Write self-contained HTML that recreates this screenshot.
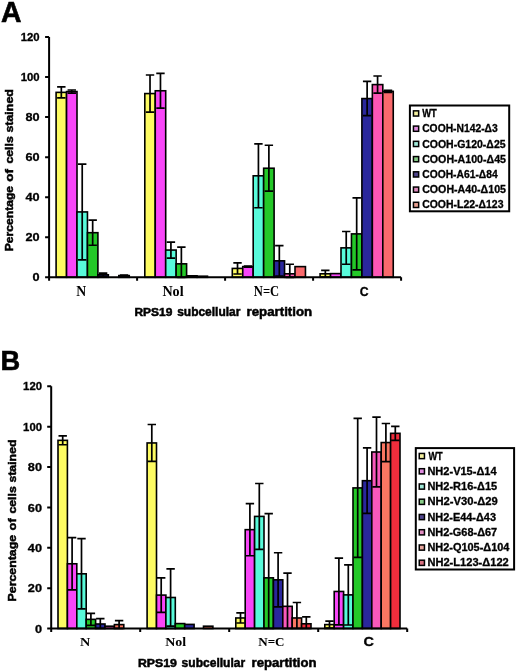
<!DOCTYPE html>
<html><head><meta charset="utf-8"><style>
html,body{margin:0;padding:0;background:#fff;}
body{width:520px;height:672px;position:relative;overflow:hidden;font-family:"Liberation Sans", sans-serif;}
</style></head><body>
<div style="will-change:transform;position:absolute;left:0;top:0;width:520px;height:672px"><svg width="520" height="672" viewBox="0 0 520 672" style="position:absolute;left:0;top:0">
<rect x="56.1" y="92.37" width="10.45" height="184.93" fill="#FDFB62" stroke="#000" stroke-width="1.6"/>
<rect x="66.55" y="91.57" width="10.45" height="185.73" fill="#F846F8" stroke="#000" stroke-width="1.6"/>
<rect x="77" y="211.93" width="10.45" height="65.37" fill="#58FADA" stroke="#000" stroke-width="1.6"/>
<rect x="87.45" y="232.69" width="10.45" height="44.61" fill="#24C828" stroke="#000" stroke-width="1.6"/>
<rect x="97.9" y="274.8" width="10.45" height="2.5" fill="#2A279C" stroke="#000" stroke-width="1.6"/>
<rect x="118.8" y="275.6" width="10.45" height="1.7" fill="#FA696C" stroke="#000" stroke-width="1.6"/>
<rect x="144.8" y="93.57" width="10.45" height="183.73" fill="#FDFB62" stroke="#000" stroke-width="1.6"/>
<rect x="155.25" y="90.77" width="10.45" height="186.53" fill="#F846F8" stroke="#000" stroke-width="1.6"/>
<rect x="165.7" y="250.05" width="10.45" height="27.25" fill="#58FADA" stroke="#000" stroke-width="1.6"/>
<rect x="176.15" y="263.83" width="10.45" height="13.47" fill="#24C828" stroke="#000" stroke-width="1.6"/>
<rect x="186.6" y="275.8" width="10.45" height="1.5" fill="#2A279C" stroke="#000" stroke-width="1.6"/>
<rect x="197.05" y="276.2" width="10.45" height="1.1" fill="#FC56B6" stroke="#000" stroke-width="1.6"/>
<rect x="232.3" y="268.42" width="10.45" height="8.88" fill="#FDFB62" stroke="#000" stroke-width="1.6"/>
<rect x="242.75" y="266.62" width="10.45" height="10.68" fill="#F846F8" stroke="#000" stroke-width="1.6"/>
<rect x="253.2" y="175.8" width="10.45" height="101.5" fill="#58FADA" stroke="#000" stroke-width="1.6"/>
<rect x="263.65" y="168.22" width="10.45" height="109.08" fill="#24C828" stroke="#000" stroke-width="1.6"/>
<rect x="274.1" y="260.83" width="10.45" height="16.47" fill="#2A279C" stroke="#000" stroke-width="1.6"/>
<rect x="284.55" y="273.81" width="10.45" height="3.49" fill="#FC56B6" stroke="#000" stroke-width="1.6"/>
<rect x="295" y="266.62" width="10.45" height="10.68" fill="#FA696C" stroke="#000" stroke-width="1.6"/>
<rect x="320.1" y="273.81" width="10.45" height="3.49" fill="#FDFB62" stroke="#000" stroke-width="1.6"/>
<rect x="330.55" y="273.61" width="10.45" height="3.69" fill="#F846F8" stroke="#000" stroke-width="1.6"/>
<rect x="341" y="247.86" width="10.45" height="29.44" fill="#58FADA" stroke="#000" stroke-width="1.6"/>
<rect x="351.45" y="233.89" width="10.45" height="43.41" fill="#24C828" stroke="#000" stroke-width="1.6"/>
<rect x="361.9" y="98.56" width="10.45" height="178.74" fill="#2A279C" stroke="#000" stroke-width="1.6"/>
<rect x="372.35" y="84.59" width="10.45" height="192.71" fill="#FC56B6" stroke="#000" stroke-width="1.6"/>
<rect x="382.8" y="91.37" width="10.45" height="185.93" fill="#FA696C" stroke="#000" stroke-width="1.6"/>
<path d="M61.33 86.78V97.96M57.12 86.78H65.53M57.12 97.96H65.53" stroke="#000" stroke-width="1.7" fill="none"/>
<path d="M71.77 89.98V93.17M67.57 89.98H75.97M67.57 93.17H75.97" stroke="#000" stroke-width="1.7" fill="none"/>
<path d="M82.22 164.03V259.83M78.02 164.03H86.42M78.02 259.83H86.42" stroke="#000" stroke-width="1.7" fill="none"/>
<path d="M92.67 220.11V245.26M88.47 220.11H96.88M88.47 245.26H96.88" stroke="#000" stroke-width="1.7" fill="none"/>
<path d="M103.12 273.21V276.4M98.92 273.21H107.33M98.92 276.4H107.33" stroke="#000" stroke-width="1.7" fill="none"/>
<path d="M124.02 275V276.2M119.82 275H128.22M119.82 276.2H128.22" stroke="#000" stroke-width="1.7" fill="none"/>
<path d="M150.02 75.01V112.13M145.82 75.01H154.22M145.82 112.13H154.22" stroke="#000" stroke-width="1.7" fill="none"/>
<path d="M160.47 73.41V108.14M156.27 73.41H164.67M156.27 108.14H164.67" stroke="#000" stroke-width="1.7" fill="none"/>
<path d="M170.92 242.07V258.04M166.72 242.07H175.12M166.72 258.04H175.12" stroke="#000" stroke-width="1.7" fill="none"/>
<path d="M181.37 247.06V277.3M177.17 247.06H185.57M177.17 277.3H185.57" stroke="#000" stroke-width="1.7" fill="none"/>
<path d="M237.52 262.83V274.01M233.32 262.83H241.72M233.32 274.01H241.72" stroke="#000" stroke-width="1.7" fill="none"/>
<path d="M247.97 266.02V267.22M243.77 266.02H252.17M243.77 267.22H252.17" stroke="#000" stroke-width="1.7" fill="none"/>
<path d="M258.43 143.87V207.74M254.23 143.87H262.62M254.23 207.74H262.62" stroke="#000" stroke-width="1.7" fill="none"/>
<path d="M268.88 145.26V191.17M264.68 145.26H273.07M264.68 191.17H273.07" stroke="#000" stroke-width="1.7" fill="none"/>
<path d="M279.32 245.66V276M275.12 245.66H283.52M275.12 276H283.52" stroke="#000" stroke-width="1.7" fill="none"/>
<path d="M289.78 264.23V277.3M285.58 264.23H293.98M285.58 277.3H293.98" stroke="#000" stroke-width="1.7" fill="none"/>
<path d="M325.33 270.41V277.2M321.13 270.41H329.53M321.13 277.2H329.53" stroke="#000" stroke-width="1.7" fill="none"/>
<path d="M346.23 231.49V264.23M342.03 231.49H350.43M342.03 264.23H350.43" stroke="#000" stroke-width="1.7" fill="none"/>
<path d="M356.68 197.96V269.81M352.48 197.96H360.88M352.48 269.81H360.88" stroke="#000" stroke-width="1.7" fill="none"/>
<path d="M367.13 81.39V115.72M362.93 81.39H371.33M362.93 115.72H371.33" stroke="#000" stroke-width="1.7" fill="none"/>
<path d="M377.58 76V93.17M373.38 76H381.78M373.38 93.17H381.78" stroke="#000" stroke-width="1.7" fill="none"/>
<path d="M388.03 90.37V92.37M383.83 90.37H392.23M383.83 92.37H392.23" stroke="#000" stroke-width="1.7" fill="none"/>
<path d="M49.1 37V277.3M45.1 277.3H49.1M45.1 237.25H49.1M45.1 197.2H49.1M45.1 157.15H49.1M45.1 117.1H49.1M45.1 77.05H49.1M45.1 37H49.1M45.1 277.3H401.1M49.1 277.3V280.8M137.1 277.3V280.8M225.1 277.3V280.8M313.1 277.3V280.8M401.1 277.3V280.8" stroke="#000" stroke-width="2" fill="none"/>
<rect x="58" y="440.35" width="9.4" height="188.15" fill="#FDFB62" stroke="#000" stroke-width="1.6"/>
<rect x="67.4" y="563.78" width="9.4" height="64.72" fill="#F846F8" stroke="#000" stroke-width="1.6"/>
<rect x="76.8" y="573.81" width="9.4" height="54.69" fill="#58FADA" stroke="#000" stroke-width="1.6"/>
<rect x="86.2" y="619.37" width="9.4" height="9.13" fill="#24C828" stroke="#000" stroke-width="1.6"/>
<rect x="95.6" y="623.99" width="9.4" height="4.51" fill="#2A279C" stroke="#000" stroke-width="1.6"/>
<rect x="105" y="626.19" width="9.4" height="2.31" fill="#F858BC" stroke="#000" stroke-width="1.6"/>
<rect x="114.4" y="624.59" width="9.4" height="3.91" fill="#FA7662" stroke="#000" stroke-width="1.6"/>
<rect x="147.1" y="442.95" width="9.4" height="185.55" fill="#FDFB62" stroke="#000" stroke-width="1.6"/>
<rect x="156.5" y="595.09" width="9.4" height="33.41" fill="#F846F8" stroke="#000" stroke-width="1.6"/>
<rect x="165.9" y="597.49" width="9.4" height="31.01" fill="#58FADA" stroke="#000" stroke-width="1.6"/>
<rect x="175.3" y="623.58" width="9.4" height="4.92" fill="#24C828" stroke="#000" stroke-width="1.6"/>
<rect x="184.7" y="624.39" width="9.4" height="4.11" fill="#2A279C" stroke="#000" stroke-width="1.6"/>
<rect x="203.5" y="626.19" width="9.4" height="2.31" fill="#FA7662" stroke="#000" stroke-width="1.6"/>
<rect x="235.8" y="617.97" width="9.4" height="10.53" fill="#FDFB62" stroke="#000" stroke-width="1.6"/>
<rect x="245.2" y="529.66" width="9.4" height="98.84" fill="#F846F8" stroke="#000" stroke-width="1.6"/>
<rect x="254.6" y="516.41" width="9.4" height="112.09" fill="#58FADA" stroke="#000" stroke-width="1.6"/>
<rect x="264" y="577.83" width="9.4" height="50.67" fill="#24C828" stroke="#000" stroke-width="1.6"/>
<rect x="273.4" y="579.83" width="9.4" height="48.67" fill="#2A279C" stroke="#000" stroke-width="1.6"/>
<rect x="282.8" y="606.32" width="9.4" height="22.18" fill="#F858BC" stroke="#000" stroke-width="1.6"/>
<rect x="292.2" y="617.97" width="9.4" height="10.53" fill="#FA7662" stroke="#000" stroke-width="1.6"/>
<rect x="301.6" y="623.79" width="9.4" height="4.71" fill="#F02D3C" stroke="#000" stroke-width="1.6"/>
<rect x="324.8" y="624.59" width="9.4" height="3.91" fill="#FDFB62" stroke="#000" stroke-width="1.6"/>
<rect x="334.2" y="591.47" width="9.4" height="37.03" fill="#F846F8" stroke="#000" stroke-width="1.6"/>
<rect x="343.6" y="594.88" width="9.4" height="33.62" fill="#58FADA" stroke="#000" stroke-width="1.6"/>
<rect x="353" y="487.91" width="9.4" height="140.59" fill="#24C828" stroke="#000" stroke-width="1.6"/>
<rect x="362.4" y="480.69" width="9.4" height="147.81" fill="#2A279C" stroke="#000" stroke-width="1.6"/>
<rect x="371.8" y="451.99" width="9.4" height="176.51" fill="#F858BC" stroke="#000" stroke-width="1.6"/>
<rect x="381.2" y="442.55" width="9.4" height="185.95" fill="#FA7662" stroke="#000" stroke-width="1.6"/>
<rect x="390.6" y="433.32" width="9.4" height="195.18" fill="#F02D3C" stroke="#000" stroke-width="1.6"/>
<path d="M62.7 435.93V444.76M58.5 435.93H66.9M58.5 444.76H66.9" stroke="#000" stroke-width="1.7" fill="none"/>
<path d="M72.1 537.68V589.87M67.9 537.68H76.3M67.9 589.87H76.3" stroke="#000" stroke-width="1.7" fill="none"/>
<path d="M81.5 538.69V608.93M77.3 538.69H85.7M77.3 608.93H85.7" stroke="#000" stroke-width="1.7" fill="none"/>
<path d="M90.9 613.35V625.39M86.7 613.35H95.1M86.7 625.39H95.1" stroke="#000" stroke-width="1.7" fill="none"/>
<path d="M100.3 618.57V628.5M96.1 618.57H104.5M96.1 628.5H104.5" stroke="#000" stroke-width="1.7" fill="none"/>
<path d="M119.1 620.57V628.5M114.9 620.57H123.3M114.9 628.5H123.3" stroke="#000" stroke-width="1.7" fill="none"/>
<path d="M151.8 424.49V461.42M147.6 424.49H156M147.6 461.42H156" stroke="#000" stroke-width="1.7" fill="none"/>
<path d="M161.2 577.83V612.35M157 577.83H165.4M157 612.35H165.4" stroke="#000" stroke-width="1.7" fill="none"/>
<path d="M170.6 568.79V626.19M166.4 568.79H174.8M166.4 626.19H174.8" stroke="#000" stroke-width="1.7" fill="none"/>
<path d="M240.5 612.95V622.98M236.3 612.95H244.7M236.3 622.98H244.7" stroke="#000" stroke-width="1.7" fill="none"/>
<path d="M249.9 503.57V555.75M245.7 503.57H254.1M245.7 555.75H254.1" stroke="#000" stroke-width="1.7" fill="none"/>
<path d="M259.3 483.5V549.33M255.1 483.5H263.5M255.1 549.33H263.5" stroke="#000" stroke-width="1.7" fill="none"/>
<path d="M268.7 513.6V628.5M264.5 513.6H272.9M264.5 628.5H272.9" stroke="#000" stroke-width="1.7" fill="none"/>
<path d="M278.1 552.74V606.93M273.9 552.74H282.3M273.9 606.93H282.3" stroke="#000" stroke-width="1.7" fill="none"/>
<path d="M287.5 573.21V628.5M283.3 573.21H291.7M283.3 628.5H291.7" stroke="#000" stroke-width="1.7" fill="none"/>
<path d="M296.9 602.51V628.5M292.7 602.51H301.1M292.7 628.5H301.1" stroke="#000" stroke-width="1.7" fill="none"/>
<path d="M306.3 616.96V628.5M302.1 616.96H310.5M302.1 628.5H310.5" stroke="#000" stroke-width="1.7" fill="none"/>
<path d="M329.5 621.18V628M325.3 621.18H333.7M325.3 628H333.7" stroke="#000" stroke-width="1.7" fill="none"/>
<path d="M338.9 558.16V624.79M334.7 558.16H343.1M334.7 624.79H343.1" stroke="#000" stroke-width="1.7" fill="none"/>
<path d="M348.3 564.78V624.99M344.1 564.78H352.5M344.1 624.99H352.5" stroke="#000" stroke-width="1.7" fill="none"/>
<path d="M357.7 418.47V557.35M353.5 418.47H361.9M353.5 557.35H361.9" stroke="#000" stroke-width="1.7" fill="none"/>
<path d="M367.1 447.97V513.4M362.9 447.97H371.3M362.9 513.4H371.3" stroke="#000" stroke-width="1.7" fill="none"/>
<path d="M376.5 417.06V486.91M372.3 417.06H380.7M372.3 486.91H380.7" stroke="#000" stroke-width="1.7" fill="none"/>
<path d="M385.9 423.49V461.62M381.7 423.49H390.1M381.7 461.62H390.1" stroke="#000" stroke-width="1.7" fill="none"/>
<path d="M395.3 426.3V440.35M391.1 426.3H399.5M391.1 440.35H399.5" stroke="#000" stroke-width="1.7" fill="none"/>
<path d="M51.2 386.34V628.5M47.2 628.5H51.2M47.2 588.14H51.2M47.2 547.78H51.2M47.2 507.42H51.2M47.2 467.06H51.2M47.2 426.7H51.2M47.2 386.34H51.2M47.2 628.5H407.2M51.2 628.5V632M140.2 628.5V632M229.2 628.5V632M318.2 628.5V632M407.2 628.5V632" stroke="#000" stroke-width="2" fill="none"/>
<text x="39.7" y="281.4" text-anchor="end" font-family='"Liberation Sans", sans-serif' font-weight="bold" font-size="10.6" textLength="7.07" lengthAdjust="spacingAndGlyphs" stroke="#000" stroke-width="0.3">0</text>
<text x="39.7" y="241.35" text-anchor="end" font-family='"Liberation Sans", sans-serif' font-weight="bold" font-size="10.6" textLength="14.14" lengthAdjust="spacingAndGlyphs" stroke="#000" stroke-width="0.3">20</text>
<text x="39.7" y="201.3" text-anchor="end" font-family='"Liberation Sans", sans-serif' font-weight="bold" font-size="10.6" textLength="14.14" lengthAdjust="spacingAndGlyphs" stroke="#000" stroke-width="0.3">40</text>
<text x="39.7" y="161.25" text-anchor="end" font-family='"Liberation Sans", sans-serif' font-weight="bold" font-size="10.6" textLength="14.14" lengthAdjust="spacingAndGlyphs" stroke="#000" stroke-width="0.3">60</text>
<text x="39.7" y="121.2" text-anchor="end" font-family='"Liberation Sans", sans-serif' font-weight="bold" font-size="10.6" textLength="14.14" lengthAdjust="spacingAndGlyphs" stroke="#000" stroke-width="0.3">80</text>
<text x="39.7" y="81.15" text-anchor="end" font-family='"Liberation Sans", sans-serif' font-weight="bold" font-size="10.6" textLength="18.92" lengthAdjust="spacingAndGlyphs" stroke="#000" stroke-width="0.3">100</text>
<text x="39.7" y="41.1" text-anchor="end" font-family='"Liberation Sans", sans-serif' font-weight="bold" font-size="10.6" textLength="18.92" lengthAdjust="spacingAndGlyphs" stroke="#000" stroke-width="0.3">120</text>
<text x="42" y="632.6" text-anchor="end" font-family='"Liberation Sans", sans-serif' font-weight="bold" font-size="10.6" textLength="7.07" lengthAdjust="spacingAndGlyphs" stroke="#000" stroke-width="0.3">0</text>
<text x="42" y="592.24" text-anchor="end" font-family='"Liberation Sans", sans-serif' font-weight="bold" font-size="10.6" textLength="14.14" lengthAdjust="spacingAndGlyphs" stroke="#000" stroke-width="0.3">20</text>
<text x="42" y="551.88" text-anchor="end" font-family='"Liberation Sans", sans-serif' font-weight="bold" font-size="10.6" textLength="14.14" lengthAdjust="spacingAndGlyphs" stroke="#000" stroke-width="0.3">40</text>
<text x="42" y="511.52" text-anchor="end" font-family='"Liberation Sans", sans-serif' font-weight="bold" font-size="10.6" textLength="14.14" lengthAdjust="spacingAndGlyphs" stroke="#000" stroke-width="0.3">60</text>
<text x="42" y="471.16" text-anchor="end" font-family='"Liberation Sans", sans-serif' font-weight="bold" font-size="10.6" textLength="14.14" lengthAdjust="spacingAndGlyphs" stroke="#000" stroke-width="0.3">80</text>
<text x="42" y="430.8" text-anchor="end" font-family='"Liberation Sans", sans-serif' font-weight="bold" font-size="10.6" textLength="18.92" lengthAdjust="spacingAndGlyphs" stroke="#000" stroke-width="0.3">100</text>
<text x="42" y="390.44" text-anchor="end" font-family='"Liberation Sans", sans-serif' font-weight="bold" font-size="10.6" textLength="18.92" lengthAdjust="spacingAndGlyphs" stroke="#000" stroke-width="0.3">120</text>
<rect x="409.9" y="105.5" width="99.3" height="105.8" fill="#fff" stroke="#000" stroke-width="2"/>
<rect x="413.45" y="110.85" width="5.2" height="5.2" fill="#F4F0A0" stroke="#000" stroke-width="1.5"/>
<rect x="413.45" y="126.09" width="5.2" height="5.2" fill="#E08CE0" stroke="#000" stroke-width="1.5"/>
<rect x="413.45" y="141.33" width="5.2" height="5.2" fill="#A0E8D8" stroke="#000" stroke-width="1.5"/>
<rect x="413.45" y="156.57" width="5.2" height="5.2" fill="#88CC88" stroke="#000" stroke-width="1.5"/>
<rect x="413.45" y="171.81" width="5.2" height="5.2" fill="#50468C" stroke="#000" stroke-width="1.5"/>
<rect x="413.45" y="187.05" width="5.2" height="5.2" fill="#E08CC0" stroke="#000" stroke-width="1.5"/>
<rect x="413.45" y="202.29" width="5.2" height="5.2" fill="#E8A090" stroke="#000" stroke-width="1.5"/>
<rect x="415.8" y="448.1" width="98.3" height="121.4" fill="#fff" stroke="#000" stroke-width="2"/>
<rect x="419.25" y="453.45" width="5.2" height="5.2" fill="#F4F0A0" stroke="#000" stroke-width="1.5"/>
<rect x="419.25" y="468.7" width="5.2" height="5.2" fill="#E08CE0" stroke="#000" stroke-width="1.5"/>
<rect x="419.25" y="483.95" width="5.2" height="5.2" fill="#A0E8D8" stroke="#000" stroke-width="1.5"/>
<rect x="419.25" y="499.2" width="5.2" height="5.2" fill="#88CC88" stroke="#000" stroke-width="1.5"/>
<rect x="419.25" y="514.45" width="5.2" height="5.2" fill="#50468C" stroke="#000" stroke-width="1.5"/>
<rect x="419.25" y="529.7" width="5.2" height="5.2" fill="#E08CC0" stroke="#000" stroke-width="1.5"/>
<rect x="419.25" y="544.95" width="5.2" height="5.2" fill="#E8A8A0" stroke="#000" stroke-width="1.5"/>
<rect x="419.25" y="560.2" width="5.2" height="5.2" fill="#D87080" stroke="#000" stroke-width="1.5"/>
<text x="1" y="21.7" font-family='"Liberation Sans", sans-serif' font-weight="bold" font-size="29" textLength="20.51" lengthAdjust="spacingAndGlyphs" stroke="#000" stroke-width="0.6">A</text>
<text x="0.6" y="370.4" font-family='"Liberation Sans", sans-serif' font-weight="bold" font-size="28.5" textLength="19.7" lengthAdjust="spacingAndGlyphs" stroke="#000" stroke-width="0.6">B</text>
<text x="422.2" y="117.05" font-family='"Liberation Sans", sans-serif' font-weight="bold" font-size="10.2" textLength="14.56" lengthAdjust="spacingAndGlyphs" stroke="#000" stroke-width="0.3">WT</text>
<text x="422.2" y="132.29" font-family='"Liberation Sans", sans-serif' font-weight="bold" font-size="10.2" textLength="75.52" lengthAdjust="spacingAndGlyphs" stroke="#000" stroke-width="0.3">COOH-N142-Δ3</text>
<text x="422.2" y="147.53" font-family='"Liberation Sans", sans-serif' font-weight="bold" font-size="10.2" textLength="83.38" lengthAdjust="spacingAndGlyphs" stroke="#000" stroke-width="0.3">COOH-G120-Δ25</text>
<text x="422.2" y="162.77" font-family='"Liberation Sans", sans-serif' font-weight="bold" font-size="10.2" textLength="83.79" lengthAdjust="spacingAndGlyphs" stroke="#000" stroke-width="0.3">COOH-A100-Δ45</text>
<text x="422.2" y="178.01" font-family='"Liberation Sans", sans-serif' font-weight="bold" font-size="10.2" textLength="75.53" lengthAdjust="spacingAndGlyphs" stroke="#000" stroke-width="0.3">COOH-A61-Δ84</text>
<text x="422.2" y="193.25" font-family='"Liberation Sans", sans-serif' font-weight="bold" font-size="10.2" textLength="83.79" lengthAdjust="spacingAndGlyphs" stroke="#000" stroke-width="0.3">COOH-A40-Δ105</text>
<text x="422.2" y="208.49" font-family='"Liberation Sans", sans-serif' font-weight="bold" font-size="10.2" textLength="81.27" lengthAdjust="spacingAndGlyphs" stroke="#000" stroke-width="0.3">COOH-L22-Δ123</text>
<text x="428.4" y="459.65" font-family='"Liberation Sans", sans-serif' font-weight="bold" font-size="10.2" textLength="14.28" lengthAdjust="spacingAndGlyphs" stroke="#000" stroke-width="0.3">WT</text>
<text x="427.4" y="474.9" font-family='"Liberation Sans", sans-serif' font-weight="bold" font-size="10.2" textLength="69.24" lengthAdjust="spacingAndGlyphs" stroke="#000" stroke-width="0.3">NH2-V15-Δ14</text>
<text x="427.4" y="490.15" font-family='"Liberation Sans", sans-serif' font-weight="bold" font-size="10.2" textLength="69.77" lengthAdjust="spacingAndGlyphs" stroke="#000" stroke-width="0.3">NH2-R16-Δ15</text>
<text x="427.4" y="505.4" font-family='"Liberation Sans", sans-serif' font-weight="bold" font-size="10.2" textLength="70.26" lengthAdjust="spacingAndGlyphs" stroke="#000" stroke-width="0.3">NH2-V30-Δ29</text>
<text x="427.4" y="520.65" font-family='"Liberation Sans", sans-serif' font-weight="bold" font-size="10.2" textLength="68.63" lengthAdjust="spacingAndGlyphs" stroke="#000" stroke-width="0.3">NH2-E44-Δ43</text>
<text x="427.4" y="535.9" font-family='"Liberation Sans", sans-serif' font-weight="bold" font-size="10.2" textLength="69.76" lengthAdjust="spacingAndGlyphs" stroke="#000" stroke-width="0.3">NH2-G68-Δ67</text>
<text x="427.4" y="551.15" font-family='"Liberation Sans", sans-serif' font-weight="bold" font-size="10.2" textLength="82.04" lengthAdjust="spacingAndGlyphs" stroke="#000" stroke-width="0.3">NH2-Q105-Δ104</text>
<text x="427.4" y="566.4" font-family='"Liberation Sans", sans-serif' font-weight="bold" font-size="10.2" textLength="81.39" lengthAdjust="spacingAndGlyphs" stroke="#000" stroke-width="0.3">NH2-L123-Δ122</text>
<text x="76.2" y="295.8" font-family='"Liberation Serif", serif' font-weight="bold" font-size="14" textLength="9.95" lengthAdjust="spacingAndGlyphs">N</text>
<text x="162.4" y="295.8" font-family='"Liberation Serif", serif' font-weight="bold" font-size="14" textLength="21.24" lengthAdjust="spacingAndGlyphs">Nol</text>
<text x="253.8" y="295.8" font-family='"Liberation Serif", serif' font-weight="bold" font-size="14" textLength="25.42" lengthAdjust="spacingAndGlyphs">N=C</text>
<text x="359.8" y="296.3" font-family='"Liberation Sans", sans-serif' font-weight="bold" font-size="12.5" textLength="8.86" lengthAdjust="spacingAndGlyphs" stroke="#000" stroke-width="0.3">C</text>
<text x="80" y="645.8" font-family='"Liberation Serif", serif' font-weight="bold" font-size="13.5" textLength="10.24" lengthAdjust="spacingAndGlyphs">N</text>
<text x="165.2" y="645.8" font-family='"Liberation Serif", serif' font-weight="bold" font-size="13.5" textLength="20.92" lengthAdjust="spacingAndGlyphs">Nol</text>
<text x="258.2" y="645.8" font-family='"Liberation Serif", serif' font-weight="bold" font-size="13.5" textLength="26.35" lengthAdjust="spacingAndGlyphs">N=C</text>
<text x="363.6" y="645.8" font-family='"Liberation Sans", sans-serif' font-weight="bold" font-size="12" textLength="10.49" lengthAdjust="spacingAndGlyphs" stroke="#000" stroke-width="0.3">C</text>
<text x="134.4" y="315.7" font-family='"Liberation Sans", sans-serif' font-weight="bold" font-size="11" textLength="37.94" lengthAdjust="spacingAndGlyphs" stroke="#000" stroke-width="0.5">RPS19</text>
<text x="177.2" y="315.7" font-family='"Liberation Sans", sans-serif' font-weight="bold" font-size="12" textLength="63.17" lengthAdjust="spacingAndGlyphs" stroke="#000" stroke-width="0.5">subcellular</text>
<text x="246.6" y="315.7" font-family='"Liberation Sans", sans-serif' font-weight="bold" font-size="12" textLength="65.49" lengthAdjust="spacingAndGlyphs" stroke="#000" stroke-width="0.5">repartition</text>
<text x="138" y="666.5" font-family='"Liberation Sans", sans-serif' font-weight="bold" font-size="11" textLength="38.92" lengthAdjust="spacingAndGlyphs" stroke="#000" stroke-width="0.5">RPS19</text>
<text x="181.6" y="666.5" font-family='"Liberation Sans", sans-serif' font-weight="bold" font-size="12" textLength="63.57" lengthAdjust="spacingAndGlyphs" stroke="#000" stroke-width="0.5">subcellular</text>
<text x="251.6" y="666.5" font-family='"Liberation Sans", sans-serif' font-weight="bold" font-size="12" textLength="64.88" lengthAdjust="spacingAndGlyphs" stroke="#000" stroke-width="0.5">repartition</text>
<text transform="translate(12.9 251.2) rotate(-90)" font-family='"Liberation Sans", sans-serif' font-weight="bold" font-size="11.5" textLength="65.27" lengthAdjust="spacingAndGlyphs" stroke="#000" stroke-width="0.5">Percentage</text>
<text transform="translate(12.9 181.8) rotate(-90)" font-family='"Liberation Sans", sans-serif' font-weight="bold" font-size="11.5" textLength="12.83" lengthAdjust="spacingAndGlyphs" stroke="#000" stroke-width="0.5">of</text>
<text transform="translate(12.9 163.6) rotate(-90)" font-family='"Liberation Sans", sans-serif' font-weight="bold" font-size="11.5" textLength="27.43" lengthAdjust="spacingAndGlyphs" stroke="#000" stroke-width="0.5">cells</text>
<text transform="translate(12.9 132.6) rotate(-90)" font-family='"Liberation Sans", sans-serif' font-weight="bold" font-size="11.5" textLength="43.5" lengthAdjust="spacingAndGlyphs" stroke="#000" stroke-width="0.5">stained</text>
<text transform="translate(15.9 601.4) rotate(-90)" font-family='"Liberation Sans", sans-serif' font-weight="bold" font-size="11.5" textLength="66.5" lengthAdjust="spacingAndGlyphs" stroke="#000" stroke-width="0.5">Percentage</text>
<text transform="translate(15.9 530.4) rotate(-90)" font-family='"Liberation Sans", sans-serif' font-weight="bold" font-size="11.5" textLength="12.06" lengthAdjust="spacingAndGlyphs" stroke="#000" stroke-width="0.5">of</text>
<text transform="translate(15.9 513.6) rotate(-90)" font-family='"Liberation Sans", sans-serif' font-weight="bold" font-size="11.5" textLength="27.43" lengthAdjust="spacingAndGlyphs" stroke="#000" stroke-width="0.5">cells</text>
<text transform="translate(15.9 482.6) rotate(-90)" font-family='"Liberation Sans", sans-serif' font-weight="bold" font-size="11.5" textLength="43.11" lengthAdjust="spacingAndGlyphs" stroke="#000" stroke-width="0.5">stained</text>
</svg></div>
</body></html>
